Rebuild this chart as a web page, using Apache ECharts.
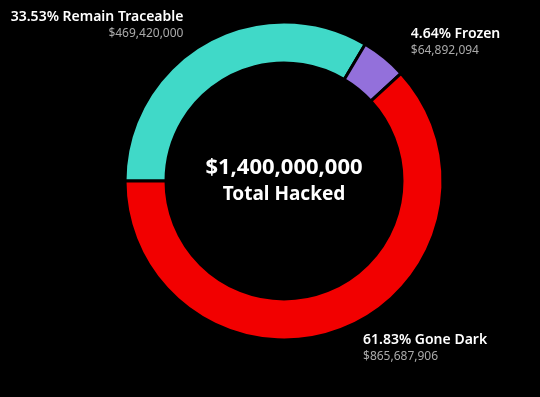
<!DOCTYPE html>
<html><head><meta charset="utf-8">
<script src="https://cdn.jsdelivr.net/npm/echarts@6/dist/echarts.min.js"></script>
<style>html,body{margin:0;padding:0;background:#000;}#c{width:540px;height:397px;}</style>
</head><body><div id="c"></div>
<script>
const categories = ['Remain Traceable', 'Frozen', 'Gone Dark'];
const values = [469420000, 64892094, 865687906];
const colors = ['#40D9C8', '#9370DB', '#F20000'];
const totalLabel = 'Total Hacked';

const total = values.reduce((a, b) => a + b, 0);
const fmt = v => '$' + v.toLocaleString('en-US');
const lineLens = [[20, 7], [20, 9], [20, 9]];

const chart = echarts.init(document.getElementById('c'));
chart.setOption({
  backgroundColor: '#000',
  animation: false,
  graphic: [
    {
      type: 'text', position: [284, 168],
      style: { text: fmt(total), x: 0, y: 0, textAlign: 'center', textVerticalAlign: 'middle',
               fill: '#fff', font: 'bold 22px "Noto Sans"' }
    },
    {
      type: 'text', position: [284, 195],
      style: { text: totalLabel, x: 0, y: 0, textAlign: 'center', textVerticalAlign: 'middle',
               fill: '#fff', font: 'bold 19px "Noto Sans"' }
    }
  ],
  series: [{
    type: 'pie',
    center: [284, 181],
    radius: [118, 159],
    startAngle: 180,
    clockwise: true,
    avoidLabelOverlap: false,
    itemStyle: { borderColor: '#000', borderWidth: 3 },
    label: {
      show: true,
      position: 'outside',
      fontFamily: 'Noto Sans',
      formatter: p => '{a|' + p.percent.toFixed(2) + '% ' + p.name + '}\n{b|' + fmt(p.value) + '}',
      rich: {
        a: { color: '#fff', fontSize: 14, fontWeight: 600, fontFamily: 'Noto Sans', lineHeight: 17 },
        b: { color: '#aaa', fontSize: 12, fontFamily: 'Noto Sans', lineHeight: 16 }
      }
    },
    labelLine: { show: false },
    data: categories.map((n, i) => ({
      name: n,
      value: values[i],
      itemStyle: { color: colors[i] },
      label: { align: i === 0 ? 'right' : 'left' },
      labelLine: { show: false, length: lineLens[i][0], length2: lineLens[i][1] }
    }))
  }]
});
</script></body></html>
